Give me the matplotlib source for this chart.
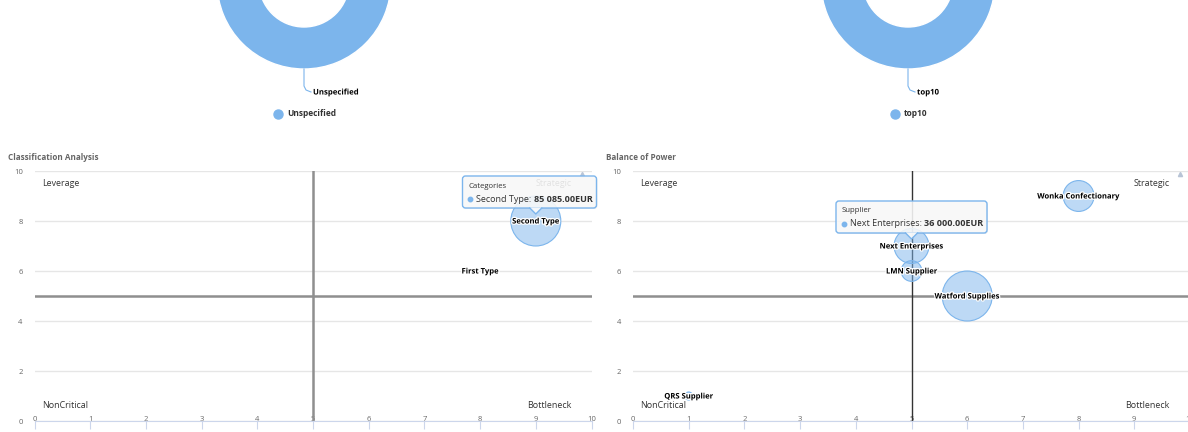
import numpy as np
import matplotlib.pyplot as plt
import matplotlib.patheffects as pe
from matplotlib.lines import Line2D
from matplotlib.patches import FancyBboxPatch, Polygon

plt.rcParams['font.family'] = ['Open Sans', 'DejaVu Sans']

BLUE = '#7cb5ec'
BLUE_FILL = (124 / 255, 181 / 255, 236 / 255, 0.5)

# donut charts
pie_left_labels = ['Unspecified']
pie_left_values = [100]
pie_right_labels = ['top10']
pie_right_values = [100]

# classification bubbles
cat_names = ['First Type', 'Second Type']
cat_x = [8, 9]
cat_y = [6, 8]
cat_eur = [0, 85085]

# supplier bubbles
sup_names = ['QRS Supplier', 'LMN Supplier', 'Next Enterprises', 'Watford Supplies', 'Wonka Confectionary']
sup_x = [1, 5, 5, 6, 8]
sup_y = [1, 6, 7, 5, 9]
sup_eur = [1000, 12000, 36000, 75000, 28000]

quadrants = ['Leverage', 'Strategic', 'NonCritical', 'Bottleneck']
x_ticks = list(range(0, 11))
y_ticks = [0, 2, 4, 6, 8, 10]

W, H = 1188, 432
fig = plt.figure(figsize=(W / 100, H / 100), dpi=100)
outline = [pe.withStroke(linewidth=1.8, foreground='white')]


def px_axes(x0, y0, x1, y1, **kw):
    # rectangle in pixels, measured from the top-left corner
    return fig.add_axes([x0 / W, 1 - y1 / H, (x1 - x0) / W, (y1 - y0) / H], **kw)


def donut(x0, x1, cx, values, labels):
    ax = px_axes(x0, 10, x1, 140)
    R, cy = 87, -18
    ax.pie(values, colors=[BLUE], radius=R, center=(cx, cy), startangle=90,
           wedgeprops=dict(width=42, edgecolor='white', linewidth=1))
    ax.set_xlim(x0, x1)
    ax.set_ylim(140, 10)
    ax.set_aspect('auto')
    ax.axis('off')
    # connector from the bottom of the ring to the data label
    by = cy + R
    ax.plot([cx, cx, cx + 2, cx + 7], [by, by + 17, by + 21, by + 23], color=BLUE, lw=0.8)
    ax.text(cx + 9, by + 23, labels[0], fontsize=5.6, fontweight='bold', color='#000000',
            va='center', ha='left', path_effects=outline)
    h = [Line2D([], [], marker='o', ls='', color=BLUE, markersize=6.5, label=labels[0])]
    ax.legend(handles=h, loc='center', bbox_to_anchor=(cx + 1, by + 45), bbox_transform=ax.transData,
              frameon=False, handletextpad=0.5, handlelength=1.2,
              prop=dict(weight='bold', size=6), labelcolor='#333333')


def bubble_sizes(vals, dmin=8, dmax=50):
    # area grows linearly with value between a min and max diameter (px); zero -> no bubble
    v = np.asarray(vals, float)
    pos_v = v[v > 0]
    lo = pos_v.min() if len(pos_v) > 1 else 0.0
    pos = np.clip((v - lo) / (v.max() - lo), 0, 1)
    d = np.sqrt(dmin ** 2 + pos * (dmax ** 2 - dmin ** 2))
    return np.where(v > 0, (d * 0.72) ** 2, 0)


def bubble_chart(x0, tx, title, names, xs, ys, eur, vcolor, vwidth):
    ax = px_axes(x0, 171, x0 + 557, 421)
    ax.set_xlim(0, 10)
    ax.set_ylim(0, 10)
    ax.set_xticks(x_ticks)
    ax.set_yticks(y_ticks)
    ax.grid(axis='y', color='#e6e6e6', lw=1)
    ax.set_axisbelow(True)
    for s in ['top', 'right', 'left']:
        ax.spines[s].set_visible(False)
    ax.spines['bottom'].set_color('#ccd6eb')
    ax.tick_params(axis='x', direction='out', length=5.8, width=0.8, color='#ccd6eb',
                   labelcolor='#666666', labelsize=5.5, pad=-9.5)
    ax.tick_params(axis='y', length=0, labelcolor='#666666', labelsize=5.5, pad=8.5)

    ax.axhline(5, color='#8f8f8f', lw=1.8, zorder=1.5)
    ax.axvline(5, color=vcolor, lw=vwidth, zorder=1.5)

    ax.scatter(xs, ys, s=bubble_sizes(eur), facecolor=BLUE_FILL, edgecolor=BLUE,
               lw=0.8, zorder=3, clip_on=False)
    for n, x, y in zip(names, xs, ys):
        ax.text(x, y, n, ha='center', va='center', fontsize=5.5, fontweight='bold',
                color='#000000', path_effects=outline, zorder=4)

    fx_l, fx_r = 7.5 / 557, 1 - 20 / 557
    fy_t, fy_b = 1 - 12 / 250, 16 / 250
    qkw = dict(transform=ax.transAxes, fontsize=6.4, color='#333333', va='center', zorder=2)
    ax.text(fx_l, fy_t, quadrants[0], ha='left', **qkw)
    ax.text(fx_r, fy_t, quadrants[1], ha='right', **qkw)
    ax.text(fx_l, fy_b, quadrants[2], ha='left', **qkw)
    ax.text(fx_r, fy_b, quadrants[3], ha='right', **qkw)
    ax.plot(1 - 10 / 557, 1 - 3 / 250, marker='^', ms=3, color='#b8c4d6',
            transform=ax.transAxes, clip_on=False)

    fig.text(tx / W, 1 - 157 / H, title, fontsize=5.9,
             fontweight='bold', color='#666666', va='center', ha='left')
    return ax


donut(0, 600, 304, pie_left_values, pie_left_labels)
donut(600, 1188, 908, pie_right_values, pie_right_labels)

ax_l = bubble_chart(34.5, 8, 'Classification Analysis', cat_names, cat_x, cat_y, cat_eur, '#8f8f8f', 1.8)
ax_r = bubble_chart(633, 606, 'Balance of Power', sup_names, sup_x, sup_y, sup_eur, '#333333', 1.0)

# hover tooltips, drawn on a full-figure overlay in pixel units
ov = fig.add_axes([0, 0, 1, 1], zorder=10)
ov.set_xlim(0, W)
ov.set_ylim(H, 0)
ov.axis('off')
renderer = fig.canvas.get_renderer()


def tooltip(ax, x, y, header, name, value, width):
    dx, dy = ax.transData.transform((x, y))
    px, py = dx, H - dy
    right_edge = ax.transAxes.transform((1, 0))[0] + 5
    left = min(px - width / 2, right_edge - width)
    bottom = py - 13
    top = bottom - 32
    ov.add_patch(FancyBboxPatch((left + 1, top + 1), width, 32, boxstyle='round,pad=0,rounding_size=3',
                                fc=(0, 0, 0, 0.06), ec='none'))
    ov.add_patch(FancyBboxPatch((left, top), width, 32, boxstyle='round,pad=0,rounding_size=3',
                                fc=(0.98, 0.98, 0.98, 0.88), ec=BLUE, lw=1))
    ov.add_patch(Polygon([(px - 6, bottom - 0.6), (px + 6, bottom - 0.6), (px, bottom + 6)],
                         closed=True, fc=(0.98, 0.98, 0.98, 0.95), ec='none'))
    ov.plot([px - 6, px, px + 6], [bottom, bottom + 6, bottom], color=BLUE, lw=1)
    ov.text(left + 6, top + 10, header, fontsize=5.6, color='#333333', va='center')
    ov.plot(left + 7.5, top + 23, marker='o', ms=3.2, color=BLUE)
    t = ov.text(left + 14, top + 23, name + ': ', fontsize=6.5, color='#333333', va='center')
    bb = t.get_window_extent(renderer)
    val = f'{value:,.2f}'.replace(',', ' ') + 'EUR'
    ov.text(bb.x1, top + 23, val, fontsize=6.5, color='#333333', fontweight='bold', va='center')


tooltip(ax_l, cat_x[1], cat_y[1], 'Categories', cat_names[1], cat_eur[1], 134)
tooltip(ax_r, sup_x[2], sup_y[2], 'Supplier', sup_names[2], sup_eur[2], 151)

fig.savefig('out.png', dpi=100)
